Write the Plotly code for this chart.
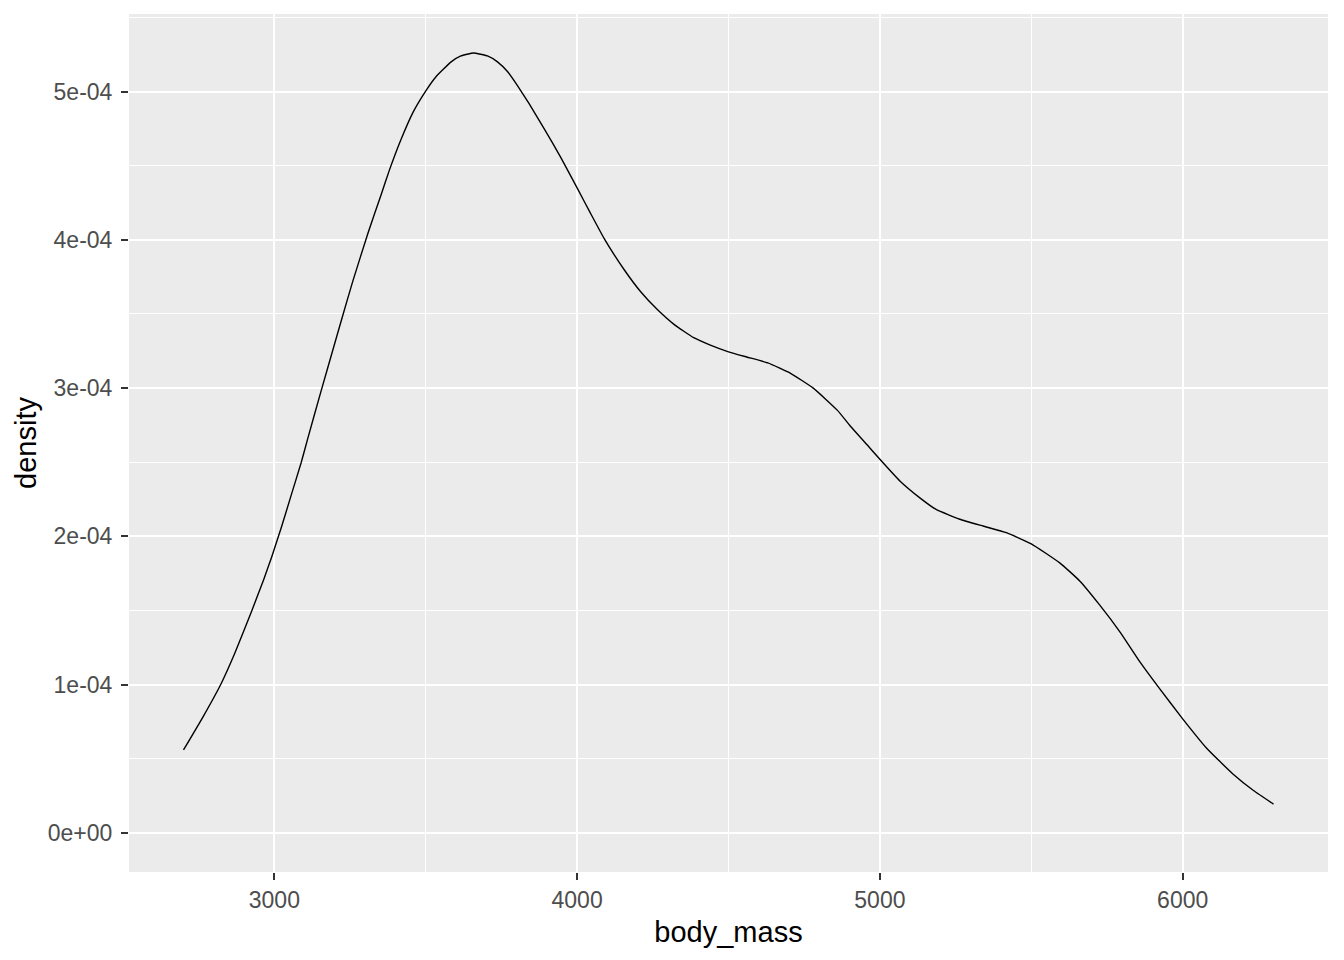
import plotly.graph_objects as go

# Density curve of body_mass (density in units of 1e-4)
body_mass = [2700, 2765, 2825, 2869, 2924, 2965, 2991, 3023, 3056, 3089, 3111, 3155,
             3188, 3226, 3259, 3310, 3353, 3380, 3419, 3458, 3502, 3534, 3584, 3616,
             3658, 3704, 3737, 3770, 3803, 3841, 3891, 3945, 4000, 4044, 4089, 4155,
             4210, 4265, 4320, 4385, 4440, 4500, 4560, 4630, 4705, 4780, 4860, 4902,
             4957, 5000, 5066, 5132, 5187, 5264, 5341, 5418, 5500, 5595, 5660, 5725,
             5795, 5860, 5925, 6000, 6080, 6165, 6235, 6300]
density_e4 = [0.56, 0.785, 1.01, 1.21, 1.49, 1.71, 1.86, 2.06, 2.28, 2.50, 2.665, 2.985,
              3.22, 3.49, 3.72, 4.05, 4.306, 4.47, 4.68, 4.86, 5.01, 5.10, 5.20, 5.24,
              5.26, 5.24, 5.20, 5.135, 5.04, 4.92, 4.75, 4.56, 4.35, 4.18, 4.01, 3.80,
              3.65, 3.53, 3.43, 3.34, 3.29, 3.245, 3.21, 3.17, 3.10, 3.00, 2.85, 2.745,
              2.62, 2.52, 2.374, 2.26, 2.18, 2.116, 2.07, 2.025, 1.95, 1.82, 1.70, 1.54,
              1.35, 1.15, 0.97, 0.77, 0.57, 0.40, 0.285, 0.195]

x_ticks = [3000, 4000, 5000, 6000]
y_ticks = [0, 1e-4, 2e-4, 3e-4, 4e-4, 5e-4]
y_tick_labels = ["0e+00", "1e-04", "2e-04", "3e-04", "4e-04", "5e-04"]

density = [d * 1e-4 for d in density_e4]

fig = go.Figure()
fig.add_trace(go.Scatter(x=body_mass, y=density, mode="lines",
                         line=dict(color="black", width=1.4, shape="spline", smoothing=0.4),
                         showlegend=False, hoverinfo="x+y"))

font_family = "Liberation Sans, Arial, sans-serif"
xr = [min(body_mass), max(body_mass)]
xpad = (xr[1] - xr[0]) * 0.05
yr = [0, max(density)]
ypad = (yr[1] - yr[0]) * 0.05

fig.update_layout(
    width=1344, height=960,
    margin=dict(l=129, r=16, t=14, b=88),
    paper_bgcolor="white", plot_bgcolor="#EBEBEB",
    font=dict(family=font_family, color="#4D4D4D", size=23),
    xaxis=dict(
        range=[xr[0] - xpad, xr[1] + xpad],
        tickvals=x_ticks, ticktext=[str(v) for v in x_ticks],
        showgrid=True, gridcolor="white", gridwidth=2,
        minor=dict(dtick=500, tick0=2500, showgrid=True, gridcolor="white", gridwidth=1, ticks=""),
        ticks="outside", ticklen=7, tickwidth=2, tickcolor="#333333",
        tickfont=dict(size=23, color="#4D4D4D"),
        zeroline=False, showline=False,
        title=dict(text="body_mass", font=dict(size=29, color="black"), standoff=10),
    ),
    yaxis=dict(
        range=[yr[0] - ypad, yr[1] + ypad],
        tickvals=y_ticks, ticktext=y_tick_labels,
        showgrid=True, gridcolor="white", gridwidth=2,
        minor=dict(dtick=0.5e-4, tick0=0.5e-4, showgrid=True, gridcolor="white", gridwidth=1, ticks=""),
        ticks="outside", ticklen=7, tickwidth=2, tickcolor="#333333",
        tickfont=dict(size=23, color="#4D4D4D"),
        ticklabelstandoff=4,
        zeroline=False, showline=False,
        title=dict(text="density", font=dict(size=29, color="black"), standoff=2),
    ),
)

fig.write_html("out.html", config={"displayModeBar": False},
               post_script="document.body.style.margin='0';")
